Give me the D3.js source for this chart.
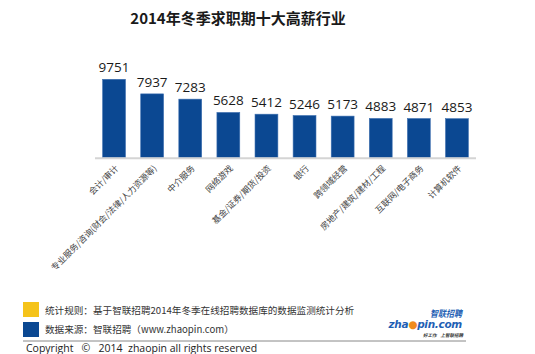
<!DOCTYPE html>
<html>
<head>
<meta charset="utf-8">
<script src="https://cdn.jsdelivr.net/npm/d3@7"></script>
<style>
  html, body { margin: 0; padding: 0; background: #fff; }
  text { font-family: "Noto Sans CJK SC", "Noto Sans", sans-serif; }
</style>
</head>
<body>
<div id="chart"></div>
<script>
// Dades
const industries = [
    "会计/审计",
    "专业服务/咨询(财会/法律/人力资源等)",
    "中介服务",
    "网络游戏",
    "基金/证券/期货/投资",
    "银行",
    "跨领域经营",
    "房地产/建筑/建材/工程",
    "互联网/电子商务",
    "计算机软件"
];
const salaries = [9751, 7937, 7283, 5628, 5412, 5246, 5173, 4883, 4871, 4853];

const title = "2014年冬季求职期十大高薪行业";
const noteRule = "统计规则：基于智联招聘2014年冬季在线招聘数据库的数据监测统计分析";
const noteSource = "数据来源：智联招聘（www.zhaopin.com）";
const copyright = "Copyright   ©   2014  zhaopin all rights reserved";

const W = 535, H = 354;
const svg = d3.select("#chart").append("svg")
    .attr("width", W)
    .attr("height", H);

// Títol
svg.append("text")
    .attr("x", 238)
    .attr("y", 24)
    .attr("text-anchor", "middle")
    .style("font-size", "15px")
    .style("font-weight", "bold")
    .style("fill", "#1a1a1a")
    .text(title);

// Escales
const x = d3.scaleBand()
    .domain(industries)
    .range([95, 476])
    .paddingInner(0.4)
    .paddingOuter(0.2);

const baseY = 157.7;
const y = d3.scaleLinear()
    .domain([0, 9751])
    .range([baseY, 79.3]);

// Barres
svg.selectAll("rect.bar")
    .data(industries)
    .enter()
    .append("rect")
        .attr("class", "bar")
        .attr("x", d => x(d))
        .attr("y", (d, i) => y(salaries[i]))
        .attr("width", x.bandwidth())
        .attr("height", (d, i) => baseY - y(salaries[i]))
        .attr("fill", "#0b4892")
        .attr("stroke", "#3d6fb0")
        .attr("stroke-width", 0.6);

// Eix
svg.append("line")
    .attr("x1", 95).attr("x2", 476)
    .attr("y1", baseY + 0.5).attr("y2", baseY + 0.5)
    .attr("stroke", "#d4d4d4")
    .attr("stroke-width", 2);

// Valors
svg.selectAll("text.val")
    .data(industries)
    .enter()
    .append("text")
        .attr("class", "val")
        .attr("x", d => x(d) + x.bandwidth() / 2)
        .attr("y", (d, i) => y(salaries[i]) - 7)
        .attr("text-anchor", "middle")
        .style("font-family", "'Open Sans', 'Noto Sans', sans-serif")
        .style("font-size", "13.5px")
        .style("fill", "#1a1a1a")
        .text((d, i) => salaries[i]);

// Etiquetes de categoria
svg.selectAll("text.cat")
    .data(industries)
    .enter()
    .append("text")
        .attr("class", "cat")
        .attr("transform", d => `translate(${x(d) + x.bandwidth() / 2 + 3}, ${baseY + 9}) rotate(-45)`)
        .attr("text-anchor", "end")
        .attr("dy", "0.35em")
        .style("font-size", "8.6px")
        .style("fill", "#444")
        .text(d => d);

// Llegenda inferior
svg.append("rect")
    .attr("x", 23).attr("y", 302)
    .attr("width", 16).attr("height", 15)
    .attr("fill", "#f5c31a");
svg.append("rect")
    .attr("x", 23).attr("y", 322)
    .attr("width", 16).attr("height", 15)
    .attr("fill", "#0b4892");

svg.append("text")
    .attr("x", 45).attr("y", 313.5)
    .style("font-size", "9.6px")
    .style("fill", "#333")
    .text(noteRule);
svg.append("text")
    .attr("x", 45).attr("y", 333)
    .style("font-size", "9.6px")
    .style("fill", "#333")
    .text(noteSource);

svg.append("line")
    .attr("x1", 23).attr("x2", 466)
    .attr("y1", 341).attr("y2", 341)
    .attr("stroke", "#888")
    .attr("stroke-width", 1);

svg.append("text")
    .attr("x", 26).attr("y", 352)
    .style("font-family", "'Open Sans', 'Noto Sans', sans-serif")
    .style("font-size", "10.5px")
    .style("fill", "#222")
    .attr("xml:space", "preserve")
    .text(copyright);

// Logotip
const logo = svg.append("g");
logo.append("text")
    .attr("transform", "translate(462, 316.5) scale(1, 1.15)")
    .attr("text-anchor", "end")
    .style("font-size", "8px")
    .style("font-weight", "bold")
    .style("font-style", "italic")
    .style("fill", "#1f5fb4")
    .text("智联招聘");
const lt = logo.append("text")
    .attr("x", 462).attr("y", 328)
    .attr("text-anchor", "end")
    .style("font-family", "'DejaVu Sans', sans-serif")
    .style("font-size", "10.5px")
    .style("font-weight", "bold")
    .style("font-style", "italic")
    .style("letter-spacing", "-0.3px")
    .style("fill", "#1f5fb4");
lt.append("tspan").text("zha");
lt.append("tspan").style("fill", "#f08a1c").text("●");
lt.append("tspan").text("pin.com");
logo.append("text")
    .attr("x", 463).attr("y", 337)
    .attr("text-anchor", "end")
    .style("font-size", "4.5px")
    .style("font-style", "italic")
    .style("font-weight", "bold")
    .style("fill", "#333")
    .attr("xml:space", "preserve")
    .text("好工作    上智联招聘");
</script>
</body>
</html>
